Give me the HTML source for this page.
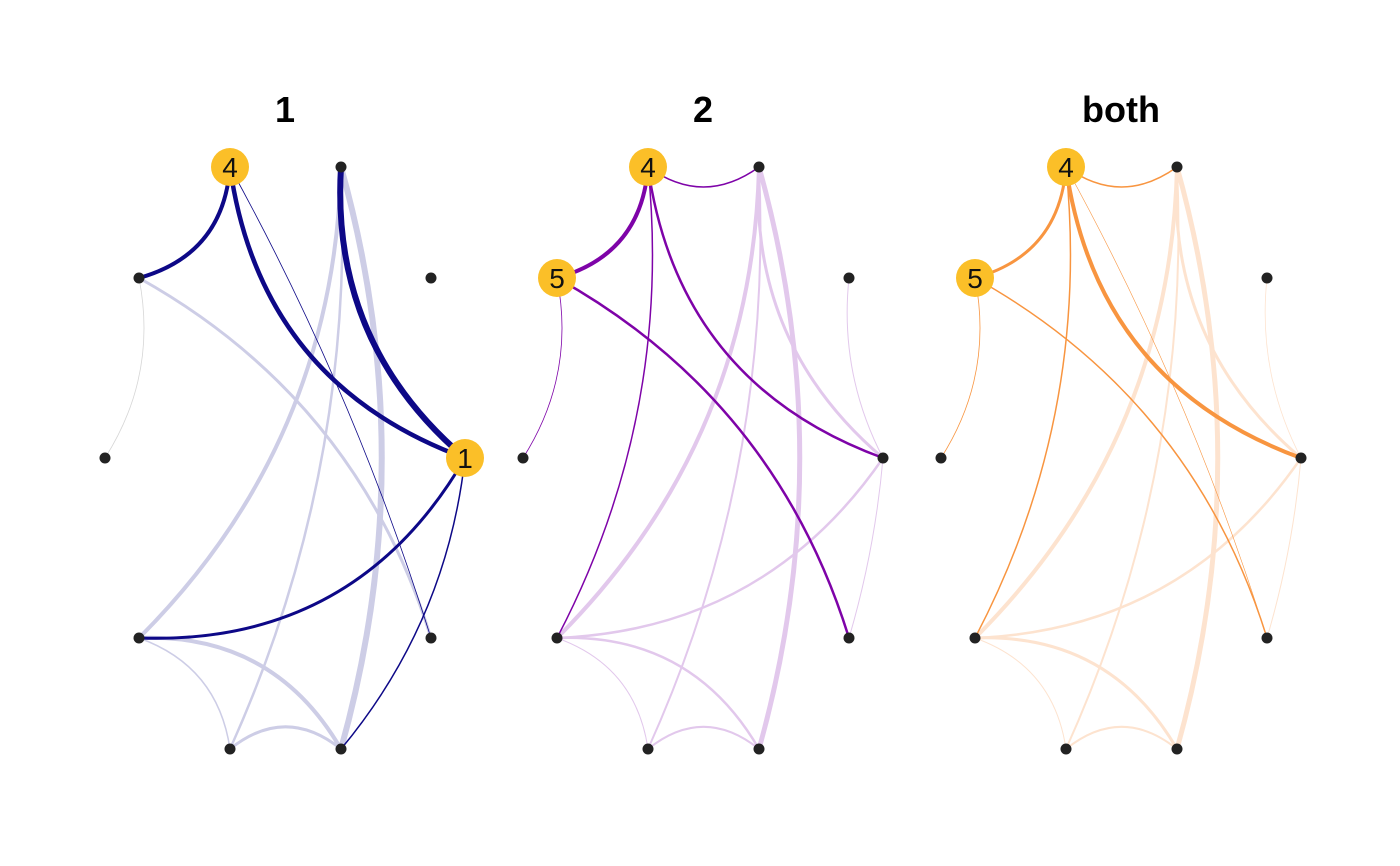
<!DOCTYPE html>
<html><head><meta charset="utf-8"><style>
body{margin:0;background:#fff;}
svg{display:block;font-family:"Liberation Sans",sans-serif;}
</style></head><body>
<svg id="chart" width="1400" height="866" viewBox="0 0 1400 866"></svg>
<script>
const nodeIds = ["A","B","C","D","E","F","G","H","I","J"];
const nodeX = [230,341,139,431,105,465,139,431,230,341];
const nodeY = [167,167,278,278,458,458,638,638,749,749];
const panelTitles = ["1","2","both"];
const panelOffsets = [0,418,836];
const highlightNodes = [{"A":"4","F":"1"},{"A":"4","C":"5"},{"A":"4","C":"5"}];
const darkColors = ["#0d0887","#7e03a8","#f89540"];
const lightColors = ["#cdcde6","#e2c8ec","#fde3cf"];
// edges: [from, to, curvature, width, highlighted]
const edges1 = [
 ["C","E",0.2,0.8,0,"#d6d6d6"],["G","B",-0.2,4,0],["B","J",0.14,6,0],["B","I",0.12,2.5,0],
 ["C","H",0.2,3,0],["G","J",0.3,4,0],["G","I",0.3,1.5,0],["I","J",0.4,3,0],
 ["A","C",0.35,4,1],["A","F",-0.3,4.5,1],["B","F",-0.25,6,1],["A","H",0.05,0.8,1],
 ["G","F",-0.3,3,1],["F","J",0.15,1.5,1]
];
const edges2 = [
 ["G","B",-0.2,4,0],["B","J",0.14,5,0],["B","I",0.12,2,0],["B","F",-0.25,3,0],
 ["D","F",-0.15,1,0],["F","G",0.25,2.5,0],["F","H",0.05,1,0],["G","J",0.3,2.5,0],
 ["G","I",0.3,1,0],["I","J",0.4,2,0],
 ["A","B",-0.36,1.5,1],["A","C",0.35,4,1],["C","E",0.2,0.8,1],["C","H",0.2,2.5,1],
 ["A","F",-0.3,2.5,1],["A","G",0.15,1.5,1]
];
const edges3 = [
 ["G","B",-0.2,4,0],["B","J",0.14,5,0],["B","I",0.12,2,0],["B","F",-0.25,3,0],
 ["D","F",-0.15,0.8,0],["F","G",0.25,2.5,0],["F","H",0.05,1,0],["G","J",0.3,3,0],
 ["G","I",0.3,1,0],["I","J",0.4,2,0],
 ["A","B",-0.36,1.5,1],["A","C",0.35,3,1],["C","E",0.2,0.8,1],["C","H",0.2,1.5,1],
 ["A","F",-0.3,4,1],["A","G",0.15,1.5,1],["A","H",0.05,0.6,1]
];
const panelEdges = [edges1,edges2,edges3];

const NS="http://www.w3.org/2000/svg";
const svg=document.getElementById("chart");
function mk(tag,attrs,parent){const e=document.createElementNS(NS,tag);for(const k in attrs)e.setAttribute(k,attrs[k]);parent.appendChild(e);return e;}
function pos(id,off){const i=nodeIds.indexOf(id);return [nodeX[i]+off,nodeY[i]];}

panelTitles.forEach((t,p)=>{
  const off=panelOffsets[p];
  const g=mk("g",{},svg);
  
  
  const title=mk("text",{x:285+off,y:122,"text-anchor":"middle","font-size":36,"font-weight":"bold",fill:"#000"},g);
  title.textContent=t;
  
  
  const es=panelEdges[p].slice().sort((a,b)=>a[4]-b[4]);
  es.forEach(e=>{
    const [x1,y1]=pos(e[0],off),[x2,y2]=pos(e[1],off);
    const dx=x2-x1,dy=y2-y1,k=e[2];
    const cx=(x1+x2)/2+k*dy, cy=(y1+y2)/2-k*dx;
    const col=e[5]||(e[4]?darkColors[p]:lightColors[p]);
    const path=mk("path",{d:`M${x1},${y1} Q${cx},${cy} ${x2},${y2}`,fill:"none",stroke:col,"stroke-width":e[3],"stroke-linecap":"round"},g);
    
    
  });
  nodeIds.forEach((id,i)=>{
    const x=nodeX[i]+off,y=nodeY[i];
    const lab=highlightNodes[p][id];
    if(lab){
      const c=mk("circle",{cx:x,cy:y,r:19,fill:"#fbbf28"},g);
      
      
      const tx=mk("text",{x:x,y:y+10,"text-anchor":"middle","font-size":28,fill:"#111"},g);
      tx.textContent=lab;
      
      
    } else {
      const c=mk("circle",{cx:x,cy:y,r:5.5,fill:"#222"},g);
      
      
    }
  });
});
</script>
</body></html>
